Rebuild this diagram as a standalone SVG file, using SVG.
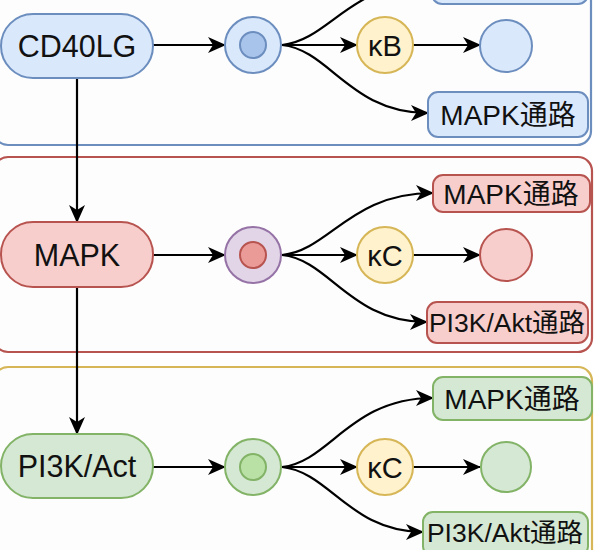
<svg xmlns="http://www.w3.org/2000/svg" width="595" height="550" viewBox="0 0 595 550">
<defs>
<marker id="ah" viewBox="0 0 18 16" markerWidth="18" markerHeight="16" refX="17" refY="8" orient="auto" markerUnits="userSpaceOnUse">
<path d="M0,0 L18,8 L0,16 L5,8 z" fill="#000"/>
</marker>
<style>
text{font-family:"Liberation Sans","Noto Sans CJK SC",Arial,sans-serif;fill:#111;text-anchor:middle;dominant-baseline:central}
.big{font-size:30.5px}
.mid{font-size:29px}
.box{font-size:28px}
.sm{font-size:26.5px}
.blue{fill:#dae8fc;stroke:#6c8ebf;stroke-width:2}
.red{fill:#f8cecc;stroke:#b85450;stroke-width:2}
.green{fill:#d5e8d4;stroke:#82b366;stroke-width:2}
.yel{fill:#fff2cc;stroke:#d6b656;stroke-width:2}
.pur{fill:#e1d5e7;stroke:#9673a6;stroke-width:2}
.cont{fill:#fdfdfd;stroke-width:2.2}
.e{fill:none;stroke:#000;stroke-width:2.2;marker-end:url(#ah)}
</style>
</defs>
<rect width="595" height="550" fill="#fff"/>
<g id="containers">
<rect class="cont" x="-6" y="-40" width="597" height="185" rx="14" stroke="#6c8ebf"/>
<rect class="cont" x="-6" y="157" width="598" height="195" rx="14" stroke="#b85450"/>
<rect class="cont" x="-6" y="367" width="598" height="200" rx="14" stroke="#d6b656"/>
</g>
<g id="connectors">
<path class="e" d="M77,78 L77,222"/>
<path class="e" d="M77,287 L77,434"/>
<path class="e" d="M153,45 L225,45"/>
<path class="e" d="M282,45 L357,45"/>
<path class="e" d="M413,45 L480,45"/>
<path class="e" d="M282,45 C330,40 350,-18 432,-18"/>
<path class="e" d="M282,45 C330,50 350,113 428,113"/>
<path class="e" d="M153,255 L225,255"/>
<path class="e" d="M282,255 L357,255"/>
<path class="e" d="M413,255 L480,255"/>
<path class="e" d="M282,255 C330,250 350,193 433,193"/>
<path class="e" d="M282,255 C330,260 350,322 427,322"/>
<path class="e" d="M153,467 L225,467"/>
<path class="e" d="M282,467 L357,467"/>
<path class="e" d="M413,467 L480,467"/>
<path class="e" d="M282,467 C330,462 350,398 433,398"/>
<path class="e" d="M282,467 C330,472 350,532 423,532"/>
</g>
<g id="n-top"><rect class="blue" x="432" y="-38" width="156" height="42" rx="10"/></g>
<g id="n-cd40lg"><rect class="blue" x="1" y="14" width="152" height="64" rx="32"/><text class="big" x="77" y="46">CD40LG</text></g>
<g id="n-c1"><circle class="blue" cx="253" cy="45" r="28"/><circle cx="253" cy="45" r="13" fill="#a9c4eb" stroke="#6c8ebf" stroke-width="2"/></g>
<g id="n-kb"><circle class="yel" cx="385" cy="45" r="28"/><text class="mid" x="385" y="46">κB</text></g>
<g id="n-e1"><circle class="blue" cx="506" cy="46" r="26"/></g>
<g id="n-mapk1"><rect class="blue" x="428" y="92" width="160" height="45" rx="10"/><text class="box" x="508" y="115">MAPK通路</text></g>

<g id="n-mapk"><rect class="red" x="1" y="222" width="152" height="65" rx="32"/><text class="big" x="77" y="255">MAPK</text></g>
<g id="n-c2"><circle class="pur" cx="253" cy="255" r="28"/><circle cx="253" cy="255" r="13" fill="#ea9a97" stroke="#b85450" stroke-width="2"/></g>
<g id="n-kc1"><circle class="yel" cx="385" cy="255" r="28"/><text class="mid" x="385" y="256">κC</text></g>
<g id="n-e2"><circle class="red" cx="506" cy="255" r="26"/></g>
<g id="n-mapk2"><rect class="red" x="433" y="175" width="157" height="37" rx="10"/><text class="box" x="511" y="194">MAPK通路</text></g>
<g id="n-pi2"><rect class="red" x="427" y="302" width="161" height="41" rx="10"/><text class="sm" x="507" y="323">PI3K/Akt通路</text></g>

<g id="n-pi3k"><rect class="green" x="1" y="434" width="152" height="64" rx="32"/><text class="big" x="77" y="466">PI3K/Act</text></g>
<g id="n-c3"><circle class="green" cx="253" cy="467" r="28"/><circle cx="253" cy="467" r="13" fill="#b9e0a5" stroke="#82b366" stroke-width="2"/></g>
<g id="n-kc2"><circle class="yel" cx="385" cy="467" r="28"/><text class="mid" x="385" y="468">κC</text></g>
<g id="n-e3"><circle class="green" cx="506" cy="467" r="25"/></g>
<g id="n-mapk3"><rect class="green" x="433" y="377" width="159" height="43" rx="10"/><text class="box" x="512" y="399">MAPK通路</text></g>
<g id="n-pi3"><rect class="green" x="423" y="512" width="165" height="44" rx="10"/><text class="sm" x="505" y="533">PI3K/Akt通路</text></g>
</svg>
